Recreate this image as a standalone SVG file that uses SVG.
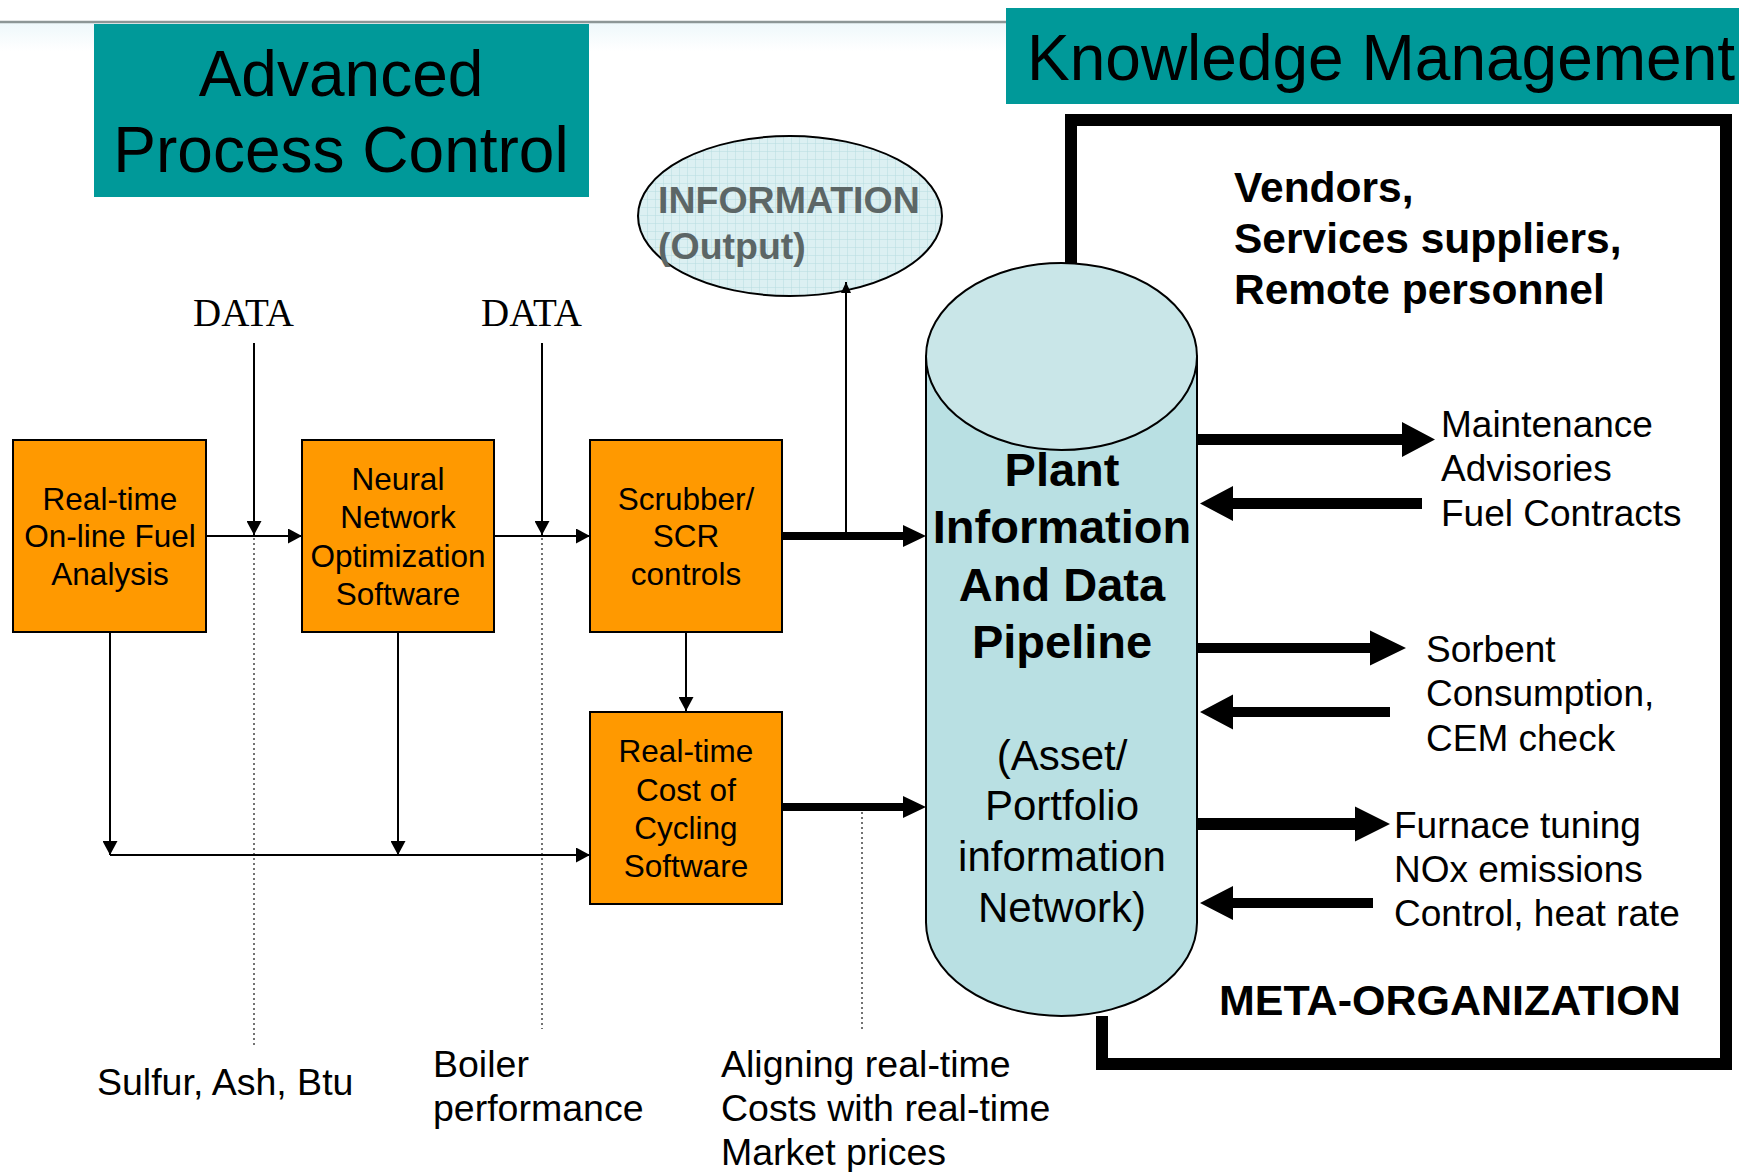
<svg xmlns="http://www.w3.org/2000/svg" width="1739" height="1172" viewBox="0 0 1739 1172">
<style>
.sans{font-family:"Liberation Sans",Arial,sans-serif;fill:#000}
.box{fill:#ff9900;stroke:#000;stroke-width:2}
.boxtxt{font-family:"Liberation Sans",Arial,sans-serif;font-size:31.5px;text-anchor:middle;fill:#000}
.thin{stroke:#000;stroke-width:2;fill:none}
.dot{stroke:#444;stroke-width:1.5;stroke-dasharray:2 3;fill:none}
.lbl{font-family:"Liberation Sans",Arial,sans-serif;font-size:37.5px;fill:#000}
.rlbl{font-family:"Liberation Sans",Arial,sans-serif;font-size:37px;fill:#000}
.big{fill:#000}
</style>
<defs>
<marker id="ah" markerUnits="userSpaceOnUse" markerWidth="15" markerHeight="15" refX="14" refY="7.5" orient="auto">
<path d="M0,0 L14,7.5 L0,15 Z" fill="#000"/>
</marker>
<marker id="ahs" markerUnits="userSpaceOnUse" markerWidth="12" markerHeight="10" refX="11" refY="5" orient="auto">
<path d="M0,0 L11,5 L0,10 Z" fill="#000"/>
</marker>
<pattern id="grid" width="8" height="8" patternUnits="userSpaceOnUse">
<rect width="8" height="8" fill="#dcf0f2"/>
<path d="M8,0 V8 M0,8 H8" stroke="#b7dde0" stroke-width="1"/>
</pattern>
<linearGradient id="fade" x1="0" y1="0" x2="0" y2="1">
<stop offset="0" stop-color="#eef8fb"/>
<stop offset="1" stop-color="#ffffff"/>
</linearGradient>
</defs>

<rect width="1739" height="1172" fill="#fff"/>
<rect x="0" y="23" width="1006" height="28" fill="url(#fade)"/>
<line x1="0" y1="22" x2="1006" y2="22" stroke="#8c9696" stroke-width="2.5"/>

<g id="apc-title">
<rect x="94" y="24" width="495" height="173" fill="#009999"/>
<text class="sans" x="341" y="96" font-size="64" text-anchor="middle">Advanced</text>
<text class="sans" x="341" y="172" font-size="64" text-anchor="middle">Process Control</text>
</g>

<g id="km-title">
<rect x="1006" y="8" width="733" height="96" fill="#009999"/>
<text class="sans" x="1027" y="80" font-size="64">Knowledge Management</text>
</g>

<g id="meta-organization">
<path d="M1071,343 V120 H1726 V1064 H1102 V1016" fill="none" stroke="#000" stroke-width="12" stroke-linejoin="miter"/>
<text class="sans" x="1234" y="202" font-size="42.5" font-weight="bold">Vendors,</text>
<text class="sans" x="1234" y="253" font-size="42.5" font-weight="bold">Services suppliers,</text>
<text class="sans" x="1234" y="304" font-size="42.5" font-weight="bold">Remote personnel</text>
<text class="sans" x="1219" y="1015" font-size="43" font-weight="bold">META-ORGANIZATION</text>
</g>

<g id="information-output">
<ellipse cx="790" cy="216" rx="152" ry="80" fill="url(#grid)" stroke="#000" stroke-width="2"/>
<text x="658" y="213" font-family="Liberation Sans,Arial,sans-serif" font-size="37.5" font-weight="bold" fill="#5c6666">INFORMATION</text>
<text x="658" y="259" font-family="Liberation Sans,Arial,sans-serif" font-size="37.5" font-weight="bold" fill="#5c6666">(Output)</text>
</g>

<g id="data-labels">
<text x="193" y="326" font-family="Liberation Serif,'Times New Roman',serif" font-size="39">DATA</text>
<text x="481" y="326" font-family="Liberation Serif,'Times New Roman',serif" font-size="39">DATA</text>
</g>

<g id="pipeline">
<path d="M926,356.5 V922.5 A135.5,93.5 0 0 0 1197,922.5 V356.5 Z" fill="#b9e0e3" stroke="#000" stroke-width="2"/>
<ellipse cx="1061.5" cy="356.5" rx="135.5" ry="93.5" fill="#c9e6e8" stroke="#000" stroke-width="2"/>
<g class="sans" font-size="47" font-weight="bold" text-anchor="middle">
<text x="1062" y="486">Plant</text>
<text x="1062" y="543">Information</text>
<text x="1062" y="601">And Data</text>
<text x="1062" y="658">Pipeline</text>
</g>
<g class="sans" font-size="42" text-anchor="middle">
<text x="1062" y="770">(Asset/</text>
<text x="1062" y="820">Portfolio</text>
<text x="1062" y="871">information</text>
<text x="1062" y="922">Network)</text>
</g>
</g>

<g id="fuel-analysis">
<rect class="box" x="13" y="440" width="193" height="192"/>
<text class="boxtxt" x="110" y="510">Real-time</text>
<text class="boxtxt" x="110" y="547">On-line Fuel</text>
<text class="boxtxt" x="110" y="585">Analysis</text>
</g>

<g id="neural-network">
<rect class="box" x="302" y="440" width="192" height="192"/>
<text class="boxtxt" x="398" y="490">Neural</text>
<text class="boxtxt" x="398" y="528">Network</text>
<text class="boxtxt" x="398" y="567">Optimization</text>
<text class="boxtxt" x="398" y="605">Software</text>
</g>

<g id="scrubber">
<rect class="box" x="590" y="440" width="192" height="192"/>
<text class="boxtxt" x="686" y="510">Scrubber/</text>
<text class="boxtxt" x="686" y="547">SCR</text>
<text class="boxtxt" x="686" y="585">controls</text>
</g>

<g id="cost-cycling">
<rect class="box" x="590" y="712" width="192" height="192"/>
<text class="boxtxt" x="686" y="762">Real-time</text>
<text class="boxtxt" x="686" y="801">Cost of</text>
<text class="boxtxt" x="686" y="839">Cycling</text>
<text class="boxtxt" x="686" y="877">Software</text>
</g>

<g id="connectors">
<line class="dot" x1="254" y1="538" x2="254" y2="1045"/>
<line class="dot" x1="542" y1="538" x2="542" y2="1029"/>
<line class="dot" x1="862" y1="812" x2="862" y2="1029"/>
<line class="thin" x1="254" y1="343" x2="254" y2="535" marker-end="url(#ah)"/>
<line class="thin" x1="542" y1="343" x2="542" y2="535" marker-end="url(#ah)"/>
<line class="thin" x1="206" y1="536" x2="302" y2="536" marker-end="url(#ah)"/>
<line class="thin" x1="494" y1="536" x2="590" y2="536" marker-end="url(#ah)"/>
<line class="thin" x1="110" y1="632" x2="110" y2="855" marker-end="url(#ah)"/>
<line class="thin" x1="398" y1="632" x2="398" y2="855" marker-end="url(#ah)"/>
<line class="thin" x1="110" y1="855" x2="590" y2="855" marker-end="url(#ah)"/>
<line class="thin" x1="686" y1="632" x2="686" y2="711" marker-end="url(#ah)"/>
<line class="thin" x1="846" y1="536" x2="846" y2="282" marker-end="url(#ahs)"/>
<polygon class="big" points="782,532 903,532 903,525 926,536 903,547 903,540 782,540"/>
<polygon class="big" points="782,803 903,803 903,796 926,807 903,818 903,811 782,811"/>
<polygon class="big" points="1197,434 1402,434 1402,422 1435,439.5 1402,457 1402,445 1197,445"/>
<polygon class="big" points="1422,498 1233,498 1233,486 1200,503.5 1233,521 1233,509 1422,509"/>
<polygon class="big" points="1197,643 1370,643 1370,630.5 1406,648 1370,665.5 1370,653 1197,653"/>
<polygon class="big" points="1390,707 1233,707 1233,694.5 1200,712 1233,729.5 1233,717 1390,717"/>
<polygon class="big" points="1197,818 1355,818 1355,806.5 1390,824 1355,841.5 1355,830 1197,830"/>
<polygon class="big" points="1373,898 1233,898 1233,886 1200,903 1233,920 1233,908 1373,908"/>
</g>

<g id="right-labels">
<text class="rlbl" x="1441" y="437">Maintenance</text>
<text class="rlbl" x="1441" y="481">Advisories</text>
<text class="rlbl" x="1441" y="526">Fuel Contracts</text>
<text class="rlbl" x="1426" y="662">Sorbent</text>
<text class="rlbl" x="1426" y="706">Consumption,</text>
<text class="rlbl" x="1426" y="751">CEM check</text>
<text class="rlbl" x="1394" y="838">Furnace tuning</text>
<text class="rlbl" x="1394" y="882">NOx emissions</text>
<text class="rlbl" x="1394" y="926">Control, heat rate</text>
</g>

<g id="bottom-labels">
<text class="lbl" x="97" y="1095">Sulfur, Ash, Btu</text>
<text class="lbl" x="433" y="1077">Boiler</text>
<text class="lbl" x="433" y="1121">performance</text>
<text class="lbl" x="721" y="1077">Aligning real-time</text>
<text class="lbl" x="721" y="1121">Costs with real-time</text>
<text class="lbl" x="721" y="1165">Market prices</text>
</g>
</svg>
